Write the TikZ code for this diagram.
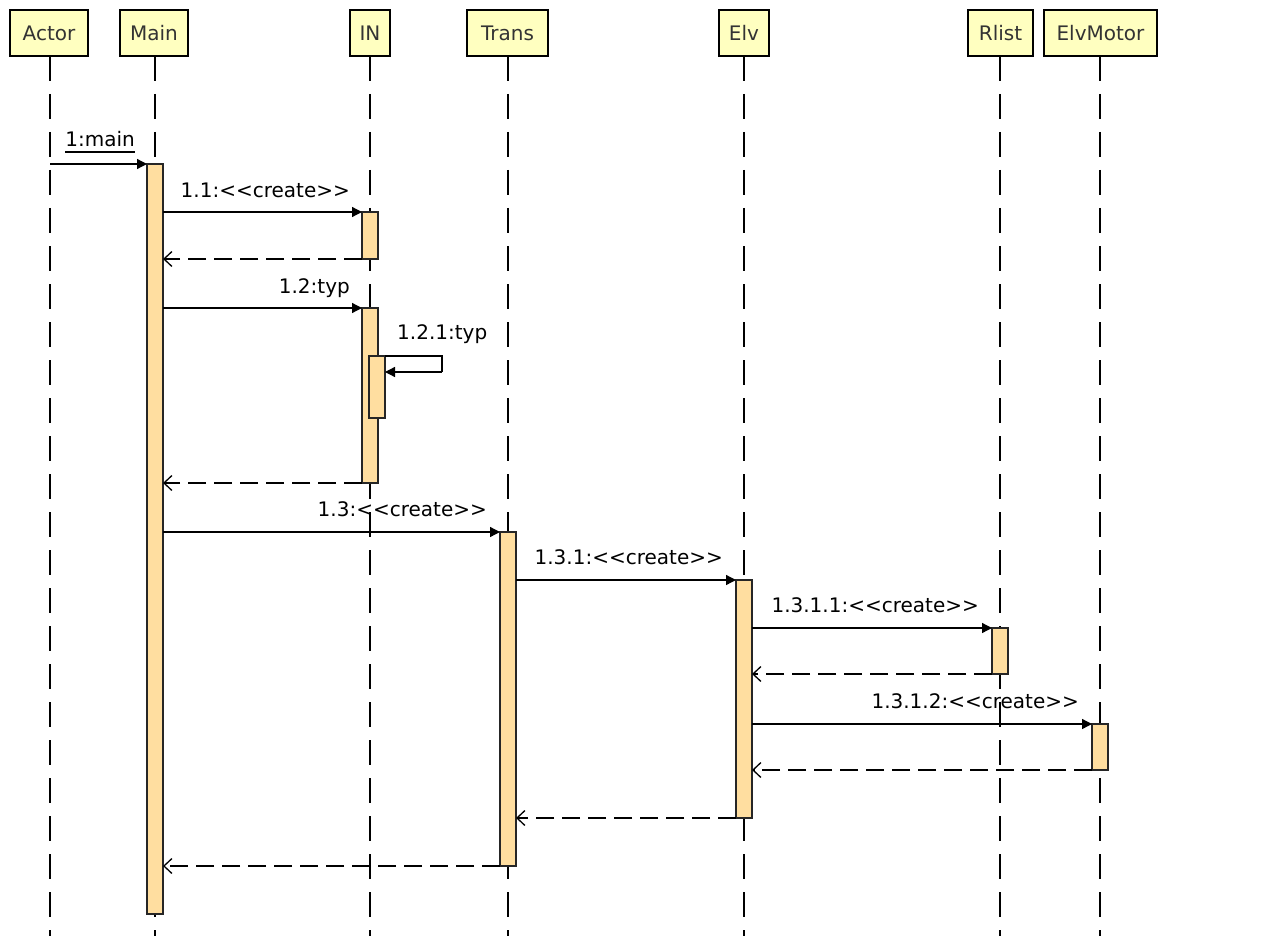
\documentclass[tikz,border=0pt]{standalone}
\usepackage{fontspec}
\setmainfont{DejaVu Sans}[Ligatures=TeXOff]
\usetikzlibrary{arrows.meta}
\definecolor{headfill}{RGB}{255,255,192}
\definecolor{actfill}{RGB}{255,222,160}
\definecolor{headtext}{RGB}{51,51,51}
\tikzset{
  head/.style={draw=black, fill=headfill, line width=1.3pt, inner sep=0pt, outer sep=0pt,
    minimum height=46pt, text=headtext, font=\fontsize{20pt}{24pt}\selectfont},
  life/.style={line width=1.3pt, dash pattern=on 25pt off 13pt},
  act/.style={draw=black!85, fill=actfill, line width=1.3pt, inner sep=0pt, outer sep=0pt, minimum width=16pt},
  msg/.style={line width=1.3pt, -{Triangle[length=10pt,width=10pt]}},
  ret/.style={line width=1.3pt, dash pattern=on 18pt off 8pt, -{Straight Barb[length=8pt,width=15pt,line width=1.3pt]}},
  lbl/.style={font=\fontsize{20pt}{24pt}\selectfont, inner sep=0pt, anchor=base east},
}
\begin{document}
\begin{tikzpicture}[x=1pt,y=-1pt]
\useasboundingbox (0,0) rectangle (1282,936);
% headers
\node[head, minimum width=78pt] (actor) at (49,33) {Actor};
\node[head, minimum width=68pt] (main) at (154,33) {Main};
\node[head, minimum width=40pt] (in) at (370,33) {IN};
\node[head, minimum width=81pt] (trans) at (507.5,33) {Trans};
\node[head, minimum width=50pt] (elv) at (744,33) {Elv};
\node[head, minimum width=65pt] (rlist) at (1000.5,33) {Rlist};
\node[head, minimum width=113pt] (motor) at (1100.5,33) {ElvMotor};
% lifeline ends
\coordinate (actorE) at (50,936);
\coordinate (mainE) at (155,936);
\coordinate (inE) at (370,936);
\coordinate (transE) at (508,936);
\coordinate (elvE) at (744,936);
\coordinate (rlistE) at (1000,936);
\coordinate (motorE) at (1100,936);
\draw[life] (actor.south -| actorE) -- (actorE);
\draw[life] (main.south -| mainE) -- (mainE);
\draw[life] (in.south -| inE) -- (inE);
\draw[life] (trans.south -| transE) -- (transE);
\draw[life] (elv.south -| elvE) -- (elvE);
\draw[life] (rlist.south -| rlistE) -- (rlistE);
\draw[life] (motor.south -| motorE) -- (motorE);
% activations
\node[act, minimum height=750pt] (mainA) at (155,539) {};
\node[act, minimum height=47pt] (inA1) at (370,235.5) {};
\node[act, minimum height=175pt] (inA2) at (370,395.5) {};
\node[act, minimum height=62pt] (inN) at (377,387) {};
\node[act, minimum height=334pt] (transA) at (508,699) {};
\node[act, minimum height=238pt] (elvA) at (744,699) {};
\node[act, minimum height=46pt] (rlA) at (1000,651) {};
\node[act, minimum height=46pt] (emA) at (1100,747) {};
% 1:main
\draw[msg] (actorE |- mainA.north) -- (mainA.north west);
\node[lbl] (l1) at (135,147) {1:main};
\draw[line width=1.2pt] (l1.base west) ++(0,5) -- ([yshift=-5pt]l1.base east);
% 1.1
\draw[msg] (mainA.east |- inA1.north) -- (inA1.north west);
\node[lbl] at (350,197) {1.1:<<create>>};
\draw[ret] (inA1.south west) -- (mainA.east |- inA1.south);
% 1.2
\draw[msg] (mainA.east |- inA2.north) -- (inA2.north west);
\node[lbl] at (350,293) {1.2:typ};
% 1.2.1 self
\coordinate (selfA) at (442,356);
\coordinate (selfB) at (442,372);
\draw[line width=1.3pt] (inN.north east) -- (selfA) -- (selfB);
\draw[msg] (selfB) -- (inN.east |- selfB);
\node[lbl, anchor=base west] at (397,339) {1.2.1:typ};
\draw[ret] (inA2.south west) -- (mainA.east |- inA2.south);
% 1.3
\draw[msg] (mainA.east |- transA.north) -- (transA.north west);
\node[lbl] at (487,516) {1.3:<<create>>};
% 1.3.1
\draw[msg] (transA.east |- elvA.north) -- (elvA.north west);
\node[lbl] at (723,564) {1.3.1:<<create>>};
% 1.3.1.1
\draw[msg] (elvA.east |- rlA.north) -- (rlA.north west);
\node[lbl] at (979,612) {1.3.1.1:<<create>>};
\draw[ret] (rlA.south west) -- (elvA.east |- rlA.south);
% 1.3.1.2
\draw[msg] (elvA.east |- emA.north) -- (emA.north west);
\node[lbl] at (1079,708) {1.3.1.2:<<create>>};
\draw[ret] (emA.south west) -- (elvA.east |- emA.south);
% returns
\draw[ret] (elvA.south west) -- (transA.east |- elvA.south);
\draw[ret] (transA.south west) -- (mainA.east |- transA.south);
\end{tikzpicture}
\end{document}
